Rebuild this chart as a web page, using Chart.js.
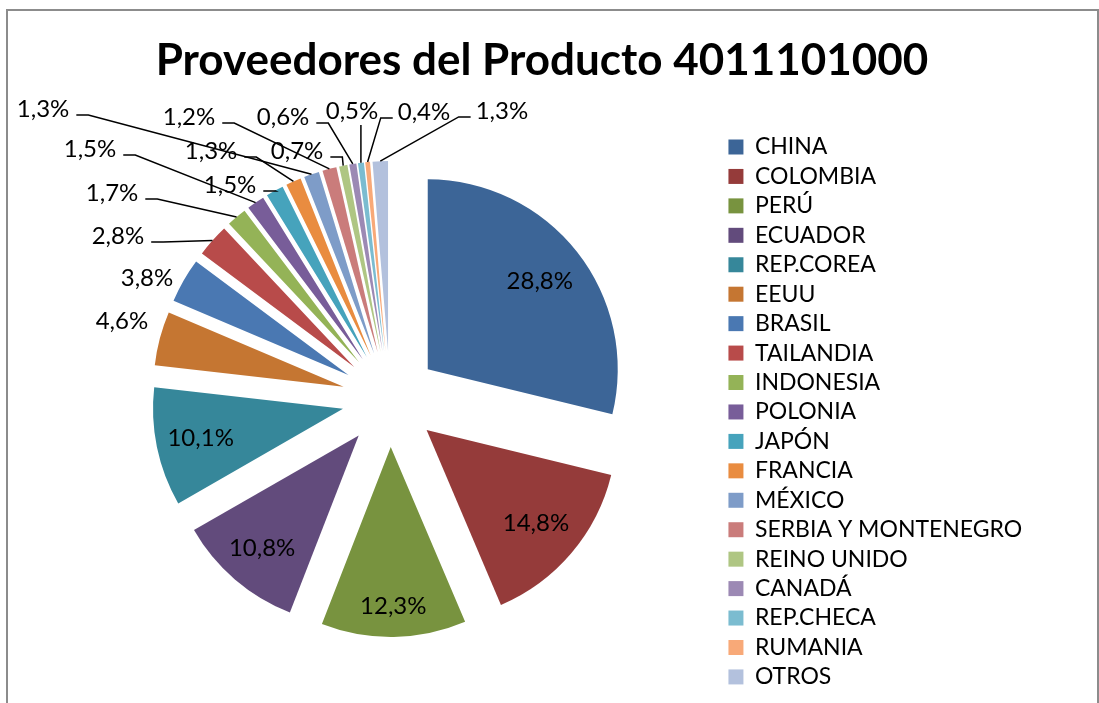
<!DOCTYPE html>
<html>
<head>
<meta charset="utf-8">
<script src="https://cdn.jsdelivr.net/npm/chart.js@4.4.1/dist/chart.umd.min.js"></script>
<style>
  html, body { margin: 0; padding: 0; background: #fff; overflow: hidden; }
  #wrap { position: relative; width: 1099px; height: 703px; }
  #frame { position: absolute; left: 6px; top: 9px; width: 1093px; height: 720px; border: 2px solid #8c8c8c; box-sizing: border-box; }
  #chart { position: absolute; left: 0; top: 0; }
</style>
</head>
<body>
<div id="wrap">
  <div id="frame"></div>
  <canvas id="chart" width="1099" height="703"></canvas>
</div>
<script>
// Proveedores del producto 4011101000 (participación %)
const paises = ['CHINA', 'COLOMBIA', 'PERÚ', 'ECUADOR', 'REP.COREA', 'EEUU', 'BRASIL', 'TAILANDIA',
    'INDONESIA', 'POLONIA', 'JAPÓN', 'FRANCIA', 'MÉXICO', 'SERBIA Y MONTENEGRO', 'REINO UNIDO',
    'CANADÁ', 'REP.CHECA', 'RUMANIA', 'OTROS'];
const participacion = [28.8, 14.8, 12.3, 10.8, 10.1, 4.6, 3.8, 2.8, 1.7, 1.5, 1.5, 1.3, 1.3, 1.2, 0.7, 0.6, 0.5, 0.4, 1.3];
const colores = ['#3c6597', '#953b3a', '#78933f', '#624b7c', '#36879a', '#c57632', '#4a78b2', '#b84b4a',
    '#94b357', '#785d99', '#46a3bc', '#e98c40', '#7e9cc8', '#ca7c7b', '#afc683', '#9c89b4',
    '#7bbcd0', '#f8a978', '#b3c1dd'];

// separación de las porciones (px)
const EXPLOSION = 48;

// ubicación de etiquetas: inside = fracción del radio; dx/dy = relativo al centro en radios
const ubicacion = [
    { inside: 0.75 }, { inside: 0.755 }, { inside: 0.84 }, { inside: 0.78 }, { inside: 0.765 },
    { dx: -1.411, dy: -0.411 },
    { dx: -1.279, dy: -0.637 },
    { dx: -1.432, dy: -0.858, line: true },
    { dx: -1.463, dy: -1.084, line: true },
    { dx: -1.579, dy: -1.316, line: true },
    { dx: -0.842, dy: -1.126, line: true },
    { dx: -0.942, dy: -1.305, line: true },
    { dx: -1.826, dy: -1.526, line: true },
    { dx: -1.058, dy: -1.484, line: true },
    { dx: -0.489, dy: -1.305, line: true },
    { dx: -0.563, dy: -1.484, line: true },
    { dx: -0.200, dy: -1.516, line: 'down' },
    { dx: 0.179, dy: -1.511, line: true },
    { dx: 0.589, dy: -1.516, line: true }
];

const fmt = v => v.toFixed(1).replace('.', ',') + '%';

// dibuja cada porción desplazada hacia afuera (pie "explotado")
const explotar = {
    id: 'explotar',
    beforeDatasetDraw(chart, args) {
        const ctx = chart.ctx;
        args.meta.data.forEach(arc => {
            const mid = (arc.startAngle + arc.endAngle) / 2;
            ctx.save();
            ctx.translate(Math.cos(mid) * EXPLOSION, Math.sin(mid) * EXPLOSION);
            arc.draw(ctx, chart.chartArea);
            ctx.restore();
        });
        return false;
    }
};

// etiquetas de porcentaje con líneas guía
const etiquetas = {
    id: 'etiquetas',
    afterDraw(chart) {
        const ctx = chart.ctx;
        const meta = chart.getDatasetMeta(0);
        ctx.save();
        ctx.font = '24px Lato';
        ctx.fillStyle = '#000';
        ctx.strokeStyle = '#000';
        ctx.lineWidth = 1.5;
        ctx.textAlign = 'center';
        ctx.textBaseline = 'middle';
        meta.data.forEach((arc, i) => {
            const mid = (arc.startAngle + arc.endAngle) / 2;
            const cos = Math.cos(mid), sin = Math.sin(mid);
            const cx = arc.x + cos * EXPLOSION, cy = arc.y + sin * EXPLOSION;
            const r = arc.outerRadius;
            const u = ubicacion[i];
            const txt = fmt(participacion[i]);
            let lx, ly;
            if (u.inside != null) {
                lx = cx + cos * r * u.inside;
                ly = cy + sin * r * u.inside;
            } else {
                lx = arc.x + u.dx * r;
                ly = arc.y + u.dy * r;
            }
            ctx.fillText(txt, lx, ly);
            if (!u.line) return;
            const px = cx + cos * r, py = cy + sin * r;
            const w = ctx.measureText(txt).width;
            ctx.beginPath();
            if (u.line === 'down') {
                ctx.moveTo(px, ly + 14);
                ctx.lineTo(px, py);
            } else if (px > lx) {
                const x0 = lx + w / 2 + 7;
                ctx.moveTo(x0, ly + 6);
                ctx.lineTo(x0 + 12, ly + 6);
                ctx.lineTo(px, py);
            } else {
                const x0 = lx - w / 2 - 5;
                ctx.moveTo(x0, ly + 6);
                ctx.lineTo(x0 - 12, ly + 6);
                ctx.lineTo(px, py);
            }
            ctx.stroke();
        });
        ctx.restore();
    }
};

new Chart(document.getElementById('chart'), {
    type: 'pie',
    data: {
        labels: paises,
        datasets: [{
            data: participacion,
            backgroundColor: colores,
            borderWidth: 0,
            radius: 190
        }]
    },
    options: {
        responsive: false,
        animation: false,
        layout: { padding: { left: 58, right: 73, top: 0, bottom: 7 } },
        plugins: {
            title: {
                display: true,
                text: 'Proveedores del Producto 4011101000',
                color: '#000',
                font: { family: 'Lato', size: 44, weight: 'bold', lineHeight: 1.2 },
                padding: { top: 34.9, bottom: 14.3 }
            },
            legend: {
                position: 'right',
                align: 'start',
                fullSize: false,
                maxWidth: 304,
                title: { display: true, text: ' ', font: { size: 12, lineHeight: 1.2 }, padding: { top: 6.33, bottom: 6.33 } },
                labels: {
                    color: '#000',
                    font: { family: 'Lato', size: 23 },
                    boxWidth: 15,
                    boxHeight: 15,
                    padding: 6.44
                }
            },
            tooltip: { enabled: false }
        }
    },
    plugins: [explotar, etiquetas]
});
</script>
</body>
</html>
